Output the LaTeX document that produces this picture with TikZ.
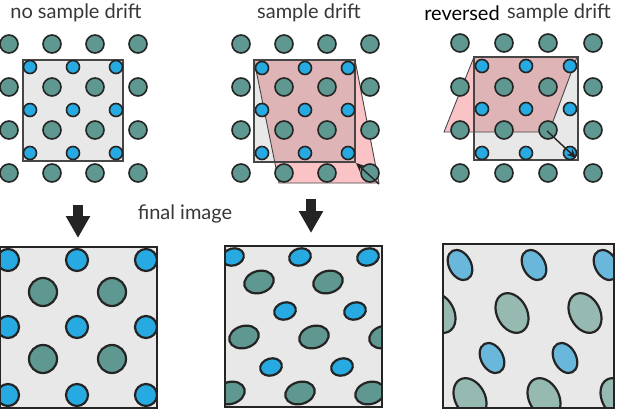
\documentclass[tikz,border=0pt]{standalone}
\usepackage{fontspec}
\setmainfont{Lato}
\usetikzlibrary{arrows.meta}
\definecolor{dotgreen}{RGB}{94,152,144}
\definecolor{dotblue}{RGB}{39,170,225}
\definecolor{palegreen}{RGB}{150,185,178}
\definecolor{paleblue}{RGB}{106,183,220}
\definecolor{boxgrey}{RGB}{232,232,232}
\definecolor{driftpink}{RGB}{250,196,199}
\definecolor{overlappink}{RGB}{222,180,182}
\definecolor{inkline}{RGB}{36,36,36}
\definecolor{edgegray}{RGB}{70,70,70}
\definecolor{labelgray}{RGB}{55,55,55}

\begin{document}
\begin{tikzpicture}[x=1pt, y=-1pt,
    gdot/.style={fill=dotgreen, draw=inkline, line width=1.6pt},
    bdot/.style={fill=dotblue, draw=inkline, line width=1.6pt},
    pgdot/.style={fill=palegreen, draw=inkline, line width=2.2pt},
    pbdot/.style={fill=paleblue, draw=inkline, line width=2.2pt},
    scanbox/.style={draw=edgegray, line width=1.2pt},
    driftedge/.style={draw=edgegray, line width=0.9pt},
    driftarrow/.style={draw=inkline, line width=1.4pt, -{Stealth[length=9pt, width=8pt]}},
    downarrow/.style={draw=inkline, line width=10pt, -{Triangle[length=22pt, width=23pt]}},
    title/.style={text=labelgray, font=\fontsize{20}{24}\selectfont, inner sep=0pt}
]

% Canvas
\useasboundingbox (0,0) rectangle (618,420);

% Titles
\node[title] (t1) at (76,13) {no sample drift};
\node[title] (t2) at (309,13) {sample drift};
\node[title, text=black] (t3) at (462,13) {reversed};
\node[title] (t4) at (559,13) {sample drift};
\node[title] (t5) at (185,214) {final image};

% PANEL 1: no sample drift
\fill[boxgrey] (23,60) rectangle (123,161);
\draw[scanbox] (23,60) rectangle (123,161);
\foreach \x in {9,52,95,138} \foreach \y in {44,87,130,173} \draw[gdot] (\x,\y) circle (9);
\foreach \x in {30,73,116} \foreach \y in {67,110,153} \draw[bdot] (\x,\y) circle (6.5);

% PANEL 2: sample drift
\fill[boxgrey] (254,60) rectangle (355,162);
\fill[driftpink] (254,60) -- (355,60) -- (379,183) -- (279,183) -- cycle;
\begin{scope}
  \clip (254,60) rectangle (355,162);
  \fill[overlappink] (254,60) -- (355,60) -- (379,183) -- (279,183) -- cycle;
\end{scope}
\draw[driftedge] (254,60) -- (355,60) -- (379,183) -- (279,183) -- cycle;
\draw[scanbox] (254,60) rectangle (355,162);
\foreach \x in {241,284,327,370} \foreach \y in {44,87,130,173} \draw[gdot] (\x,\y) circle (9);
\foreach \x in {262,305,348} \foreach \y in {68,110,153} \draw[bdot] (\x,\y) circle (6.5);
\coordinate (d2from) at (379,184);
\coordinate (d2to) at (356,163);
\draw[driftarrow] (d2from) -- (d2to);

% PANEL 3: reversed sample drift
\fill[boxgrey] (474,57) rectangle (578,160);
\fill[driftpink] (474,57) -- (577,57) -- (549,132) -- (444,132) -- cycle;
\begin{scope}
  \clip (474,57) rectangle (578,160);
  \fill[overlappink] (474,57) -- (577,57) -- (549,132) -- (444,132) -- cycle;
\end{scope}
\draw[driftedge] (474,57) -- (577,57) -- (549,132) -- (444,132) -- cycle;
\draw[scanbox] (474,57) rectangle (578,160);
\foreach \x in {460,504,548,593} \foreach \y in {43,87,130,173} \draw[gdot] (\x,\y) circle (9);
\foreach \x in {482,526,570} \foreach \y in {66,109,153} \draw[bdot] (\x,\y) circle (6.5);
\coordinate (d3from) at (547,131);
\coordinate (d3to) at (576,158);
\draw[driftarrow] (d3from) -- (d3to);

% Down arrows
\coordinate (a1top) at (78,205);
\coordinate (a1tip) at (78,238);
\draw[downarrow] (a1top) -- (a1tip);
\coordinate (a2top) at (311,199);
\coordinate (a2tip) at (311,233);
\draw[downarrow] (a2top) -- (a2tip);

% FINAL IMAGE 1
\fill[boxgrey] (0,247) rectangle (157,408);
\begin{scope}
  \clip (0,247) rectangle (157,408);
  \foreach \x in {8,77,146} \foreach \y in {260,327,395} \draw[bdot, line width=2.2pt] (\x,\y) circle (11);
  \foreach \x in {43,112} \foreach \y in {292,359} \draw[gdot, line width=2.2pt] (\x,\y) circle (14);
\end{scope}
\draw[scanbox, draw=inkline, line width=1.5pt] (0,247) rectangle (157,408);

% FINAL IMAGE 2
\fill[boxgrey] (225,246) rectangle (382,407);
\begin{scope}
  \clip (225,246) rectangle (382,407);
  \foreach \p in {(233,257),(300,257),(368,257),(285,311),(355,311),(271,367),(342,367)}
    \draw[bdot, line width=2.2pt, shift={\p}, rotate=16] (0,0) ellipse [x radius=11, y radius=8.5];
  \foreach \p in {(259,282),(328,282),(244,337),(314,337),(384,337),(230,393),(300,393),(370,393)}
    \draw[gdot, line width=2.2pt, shift={\p}, rotate=16] (0,0) ellipse [x radius=15, y radius=11];
\end{scope}
\draw[scanbox, draw=inkline, line width=1.5pt] (225,246) rectangle (382,407);

% FINAL IMAGE 3
\fill[boxgrey] (443,244) rectangle (614,408);
\begin{scope}
  \clip (443,244) rectangle (614,408);
  \foreach \p in {(460,265),(534,265),(606,265),(492,358),(565,358)}
    \draw[pbdot, shift={\p}, rotate=28] (0,0) ellipse [x radius=11, y radius=16];
  \foreach \p in {(439,313),(512,313),(585,313),(470,398),(544,398),(617,398)}
    \draw[pgdot, shift={\p}, rotate=28] (0,0) ellipse [x radius=15, y radius=21];
\end{scope}
\draw[scanbox, draw=inkline, line width=2.5pt] (443,244) rectangle (614,408);

\end{tikzpicture}
\end{document}
